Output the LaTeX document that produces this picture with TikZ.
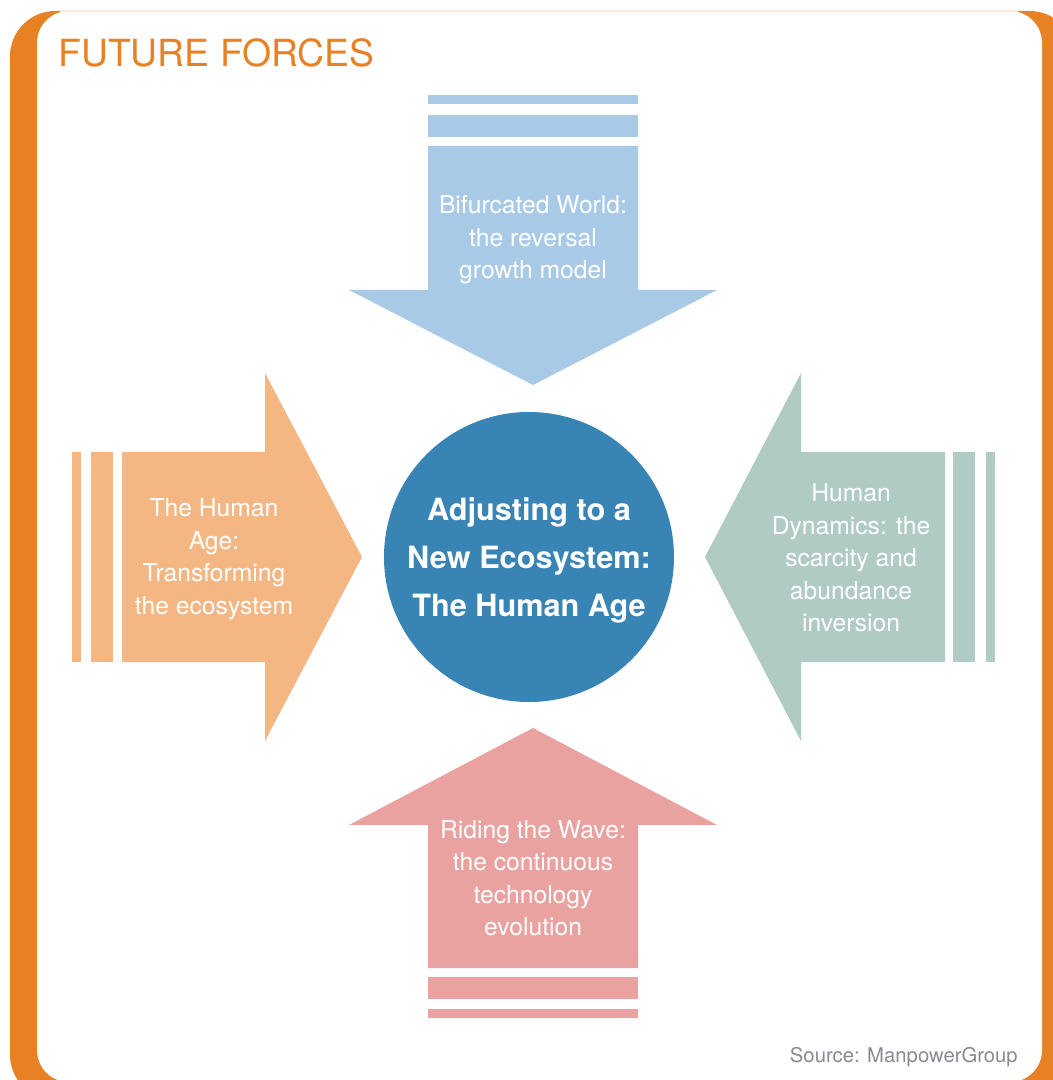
\documentclass[tikz,border=0pt]{standalone}
\usepackage{fontspec}
\setmainfont{TeX Gyre Heros}
\definecolor{framecol}{RGB}{232,128,36}
\definecolor{topcol}{RGB}{169,202,230}
\definecolor{leftcol}{RGB}{244,183,132}
\definecolor{rightcol}{RGB}{175,203,196}
\definecolor{botcol}{RGB}{233,162,160}
\definecolor{circcol}{RGB}{55,132,181}
\definecolor{srccol}{RGB}{135,140,146}
\tikzset{
  forcetext/.style={text=white, align=center, inner sep=0.75pt, font=\fontsize{18.5}{24.4}\selectfont},
  hubtext/.style={circle, fill=circcol, text=white, align=center, inner sep=0pt, minimum size=217.5pt, font=\bfseries\fontsize{23}{36}\selectfont}
}
\begin{document}
\begin{tikzpicture}[x=0.75pt,y=0.75pt,yscale=-1,xscale=1]
		\useasboundingbox (0,0) rectangle (1052,1080);
		
		%Frame
		\fill [framecol, rounded corners=34pt] (10,11) rectangle (1075,1100);
		\fill [white, rounded corners=24pt] (37,11) rectangle (1042,1082);
		\draw [framecol!22, line width=0.8pt] (60,11.5) -- (1018,11.5);
		
		%Top arrow
		\fill [topcol] (428,95) rectangle (638,104);
		\fill [topcol] (428,115) rectangle (638,137);
		\fill [topcol] (428,146) -- (638,146) -- (638,290) -- (717,290) -- (533,385) -- (349,290) -- (428,290) -- cycle;
		%Bottom arrow
		\fill [botcol] (428,1009) rectangle (638,1018);
		\fill [botcol] (428,977) rectangle (638,999);
		\fill [botcol] (428,968) -- (638,968) -- (638,825) -- (717,825) -- (533,728) -- (349,825) -- (428,825) -- cycle;
		%Left arrow
		\fill [leftcol] (72,452) rectangle (81,662);
		\fill [leftcol] (91,452) rectangle (113,662);
		\fill [leftcol] (122,452) -- (265,452) -- (265,373) -- (362,557) -- (265,741) -- (265,662) -- (122,662) -- cycle;
		%Right arrow
		\fill [rightcol] (986,452) rectangle (995,662);
		\fill [rightcol] (953,452) rectangle (975,662);
		\fill [rightcol] (945,452) -- (801,452) -- (801,373) -- (705,557) -- (801,741) -- (801,662) -- (945,662) -- cycle;
		
		% Hub
		\node [hubtext] (hub) at (529,557) {};
		\node [text=white, align=center, inner sep=0pt, font=\bfseries\fontsize{23}{36}\selectfont] (hublabel) at (529,560) {Adjusting to a\\New Ecosystem:\\The Human Age};
		
		% Text Node
		\node [forcetext] (bifurcated) at (533,240) {Bifurcated World:\\the reversal\\growth model};
		% Text Node
		\node [forcetext] (humanage) at (214,559) {The Human\\Age:\\Transforming\\the ecosystem};
		% Text Node
		\node [forcetext] (dynamics) at (851,558) {Human\\Dynamics: the\\scarcity and\\abundance\\inversion};
		% Text Node
		\node [forcetext] (wave) at (533,878) {Riding the Wave:\\the continuous\\technology\\evolution};
		
		% Title
		\node [anchor=base west, inner sep=0pt, text=framecol, font=\fontsize{28}{30}\selectfont] (title) at (58,67) {FUTURE FORCES};
		% Source
		\node [anchor=base east, inner sep=0pt, text=srccol, font=\fontsize{15.2}{17}\selectfont] (source) at (1018,1062) {Source: ManpowerGroup};
		
	\end{tikzpicture}
\end{document}
